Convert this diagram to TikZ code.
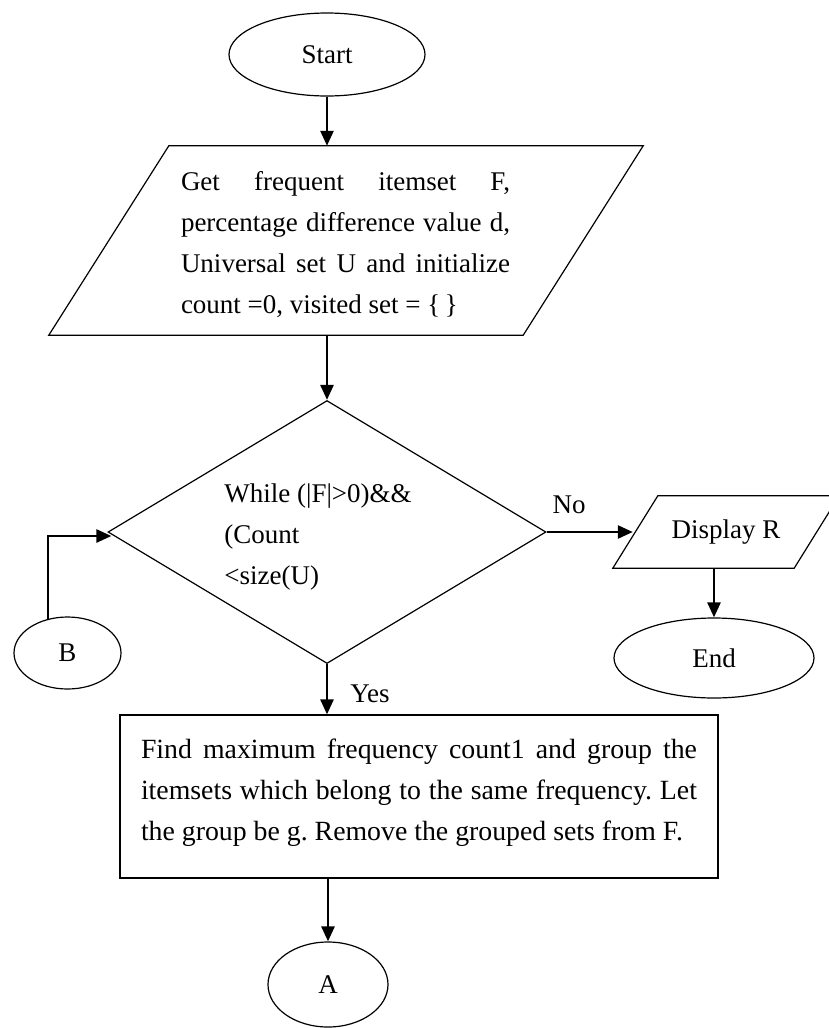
\documentclass[tikz,border=0pt]{standalone}
\usepackage{fontspec}
\setmainfont{Liberation Serif}
\usetikzlibrary{shapes.geometric,arrows.meta,positioning,calc}
\frenchspacing
\begin{document}
\begin{tikzpicture}[x=1pt,y=-1pt,>={Triangle[length=15pt,width=13pt]},
        every node/.style={font=\fontsize{27}{41}\selectfont,inner sep=0},
        term node/.style={ellipse,draw,line width=1.2pt},
        outline/.style={draw,line width=1.2pt},
        text block/.style={text width=#1,align=justify},
        flow/.style={->,line width=2.6pt}]
    \useasboundingbox (0,0) rectangle (829,1028);

    \node[term node, minimum width=196, minimum height=83] at (327,54.5) (start) {Start};
    \node[minimum width=594, minimum height=189] at (346,240.5) (getin) {};
    \node[text block=329] at (345.5,244.5) (getintxt) {Get frequent itemset F,\linebreak percentage difference value d,\linebreak Universal set U and initialize\linebreak count =0, visited set = \{\,\}};
    \node[diamond, outline, minimum width=438, minimum height=263] at (327,532) (dec) {};
    \node[align=left] at (318,537) (dectxt) {While (|F|>0)\&\&\\(Count\\<size(U)};
    \node[minimum width=226, minimum height=72] at (726,532) (disp) {Display R};
    \node[term node, minimum width=200, minimum height=80] at (714,658) (finish) {End};
    \node[term node, minimum width=107, minimum height=72] at (67.5,653) (B) {B};
    \node[rectangle, outline, minimum width=598, minimum height=163] at (419,796.5) (proc) {};
    \node[text block=556, font=\fontsize{27.8}{41}\selectfont] at (419,793) (proctxt) {Find maximum frequency count1 and group the\linebreak itemsets which belong to the same frequency. Let\linebreak the group be g. Remove the grouped sets from F.};
    \node[term node, minimum width=120, minimum height=85] at (328,984.5) (A) {A};

    \draw[outline] ($(getin.north west)+(120,0)$) -- (getin.north east) -- ($(getin.south east)+(-120,0)$) -- (getin.south west) -- cycle;
    \draw[outline] ($(disp.north west)+(45,0)$) -- (disp.north east) -- ($(disp.south east)+(-45,0)$) -- (disp.south west) -- cycle;

    \coordinate (disp in) at ($(disp.west)+(20,0)$);
    \coordinate (loop in) at ($(dec.west)+(4,4)$);
    \path[flow]
        (start) edge (start |- getin.north)
        (dec.north |- getin.south) edge (dec.north)
        (dec.east) edge node[pos=0.26, above=17pt] {No} (disp in)
        (disp.south -| finish.north) edge (finish.north)
        (dec.south) edge node[pos=0.6, right=22pt] {Yes} (dec.south |- proc.north)
        (proc.south -| A.north) edge (A.north)
        (B.120) edge[to path={|- (\tikztotarget)}] (loop in)
        ;
\end{tikzpicture}
\end{document}
